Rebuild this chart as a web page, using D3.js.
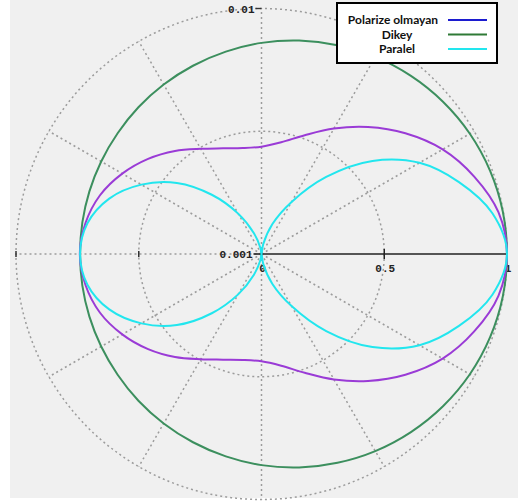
<!DOCTYPE html>
<html>
<head>
<meta charset="utf-8">
<script src="https://cdn.jsdelivr.net/npm/d3@7"></script>
<style>
  html, body { margin: 0; padding: 0; background: #ffffff; }
  svg { display: block; }
</style>
</head>
<body>
<svg id="chart" width="518" height="504"></svg>
<script>
// Polar angles in degrees, counter-clockwise from the +x axis
const angles = [0, 10, 20, 30, 40, 50, 60, 70, 80, 90, 100, 110, 120, 130, 140, 150, 160, 170,
                180, 190, 200, 210, 220, 230, 240, 250, 260, 270, 280, 290, 300, 310, 320, 330, 340, 350];

// Normalised scattered intensity for each polarisation
const dikey = [1.000, 0.998, 0.991, 0.980, 0.965, 0.947, 0.927, 0.905, 0.883, 0.860, 0.837, 0.816,
               0.797, 0.780, 0.765, 0.754, 0.746, 0.741, 0.739, 0.741, 0.746, 0.754, 0.765, 0.780,
               0.797, 0.816, 0.837, 0.860, 0.883, 0.905, 0.927, 0.947, 0.965, 0.980, 0.991, 0.998];
const polarizeOlmayan = [1.000, 0.980, 0.922, 0.852, 0.765, 0.675, 0.590, 0.515, 0.462, 0.437, 0.438, 0.458,
               0.495, 0.548, 0.603, 0.655, 0.700, 0.728, 0.740, 0.728, 0.700, 0.655, 0.603, 0.548,
               0.495, 0.458, 0.438, 0.437, 0.462, 0.515, 0.590, 0.675, 0.765, 0.852, 0.922, 0.980];
const paralel = [1.000, 0.955, 0.856, 0.743, 0.590, 0.410, 0.245, 0.130, 0.040, 0.000, 0.025, 0.090,
               0.190, 0.315, 0.450, 0.565, 0.660, 0.720, 0.739, 0.720, 0.660, 0.565, 0.450, 0.315,
               0.190, 0.090, 0.025, 0.000, 0.040, 0.130, 0.245, 0.410, 0.590, 0.743, 0.856, 0.955];

const seriesNames = ["Polarize olmayan", "Dikey", "Paralel"];
const gridRings = [0.5, 1];
const spokeAngles = [30, 60, 90, 120, 150, 180, 210, 240, 270, 300, 330];
const axisTicks = [0, 0.5, 1];
const axisTickLabels = ["0", "0.5", "1"];
const sideLabels = ["0.001", "0.01"];

const svg = d3.select("#chart");
const cx = 261.5, cy = 254, R = 245.5;

// plot panel
svg.append("rect").attr("x", 10).attr("y", 0).attr("width", 508).attr("height", 498)
  .attr("fill", "#f0f0f0");

const g = svg.append("g").attr("transform", `translate(${cx},${cy})`);
const r = d3.scaleLinear().domain([0, 1]).range([0, R]);
const rad = d => d * Math.PI / 180;
const px = (v, a) => r(v) * Math.cos(rad(a));
const py = (v, a) => -r(v) * Math.sin(rad(a));

const gridColor = "#9c9c9c";
// dotted rings
g.selectAll("circle.ring").data(gridRings).join("circle")
  .attr("class", "ring").attr("r", d => r(d))
  .attr("fill", "none").attr("stroke", gridColor)
  .attr("stroke-width", 1.5).attr("stroke-dasharray", "2,3");
// dotted spokes
g.selectAll("line.spoke").data(spokeAngles).join("line")
  .attr("class", "spoke")
  .attr("x1", 0).attr("y1", 0)
  .attr("x2", d => px(1, d)).attr("y2", d => py(1, d))
  .attr("stroke", gridColor).attr("stroke-width", 1.5).attr("stroke-dasharray", "2,3");

// ticks on the left horizontal spoke
g.selectAll("line.ltick").data([0.5, 1]).join("line")
  .attr("class", "ltick")
  .attr("x1", d => px(d, 180)).attr("x2", d => px(d, 180))
  .attr("y1", -3).attr("y2", 3)
  .attr("stroke", "#333").attr("stroke-width", 1.5);

// solid radial axis along 0 degrees
const axisG = g.append("g");
axisG.append("line").attr("x1", r(0)).attr("x2", r(1)).attr("y1", 0).attr("y2", 0)
  .attr("stroke", "#222").attr("stroke-width", 1.6);
axisG.selectAll("line.tk").data(axisTicks.slice(1)).join("line")
  .attr("class", "tk")
  .attr("x1", d => r(d)).attr("x2", d => r(d)).attr("y1", -5).attr("y2", 5)
  .attr("stroke", "#222").attr("stroke-width", 1.5);
axisG.append("line").attr("x1", -8).attr("x2", 0).attr("y1", 0).attr("y2", 0)
  .attr("stroke", "#222").attr("stroke-width", 1.6);
axisG.selectAll("text.tl").data(axisTicks).join("text")
  .attr("class", "tl")
  .attr("x", d => r(d) + 1).attr("y", 18)
  .attr("text-anchor", "middle")
  .attr("font-family", "'Liberation Mono', 'DejaVu Sans Mono', monospace")
  .attr("font-size", 11).attr("font-weight", "bold").attr("fill", "#222")
  .text((d, i) => axisTickLabels[i]);

// labels on the vertical axis
g.append("line").attr("x1", -6).attr("x2", 0).attr("y1", py(1, 90)).attr("y2", py(1, 90))
  .attr("stroke", "#333").attr("stroke-width", 1.4);
g.append("text").attr("x", -9).attr("y", 4)
  .attr("text-anchor", "end")
  .attr("font-family", "'Liberation Mono', 'DejaVu Sans Mono', monospace")
  .attr("font-size", 11).attr("font-weight", "bold").attr("fill", "#222")
  .text(sideLabels[0]);
g.append("text").attr("x", -7).attr("y", py(1, 90) + 4)
  .attr("text-anchor", "end")
  .attr("font-family", "'Liberation Mono', 'DejaVu Sans Mono', monospace")
  .attr("font-size", 11).attr("font-weight", "bold").attr("fill", "#222")
  .text(sideLabels[1]);

// scattering curves
const lineR = d3.lineRadial()
  .angle(d => Math.PI / 2 - rad(d[0]))
  .radius(d => r(d[1]))
  .curve(d3.curveCatmullRomClosed.alpha(0.5));

const curves = [
  { name: seriesNames[1], values: dikey, color: "#3c8f5e" },
  { name: seriesNames[0], values: polarizeOlmayan, color: "#9a3bd6" },
  { name: seriesNames[2], values: paralel, color: "#22e6ee" }
];
g.selectAll("path.curve").data(curves).join("path")
  .attr("class", "curve")
  .attr("d", d => lineR(angles.map((a, i) => [a, d.values[i]])))
  .attr("fill", "none").attr("stroke", d => d.color).attr("stroke-width", 2);

// legend
const legendColors = ["#1c1ccf", "#2f7a36", "#22e6ee"];
const lg = svg.append("g");
lg.append("rect").attr("x", 337).attr("y", 3).attr("width", 160).attr("height", 60)
  .attr("fill", "#ffffff").attr("stroke", "#000").attr("stroke-width", 2);
const rowY = [20, 34.5, 49];
const textX = [393, 397, 397];
lg.selectAll("text").data(seriesNames).join("text")
  .attr("x", (d, i) => textX[i]).attr("y", (d, i) => rowY[i] + 4)
  .attr("text-anchor", "middle")
  .attr("font-family", "Lato, 'Open Sans', sans-serif")
  .attr("font-weight", "bold").attr("font-size", 12).attr("fill", "#111")
  .text(d => d);
lg.selectAll("line").data(seriesNames).join("line")
  .attr("x1", 448).attr("x2", 487)
  .attr("y1", (d, i) => rowY[i]).attr("y2", (d, i) => rowY[i])
  .attr("stroke", (d, i) => legendColors[i]).attr("stroke-width", 2.2);
</script>
</body>
</html>
